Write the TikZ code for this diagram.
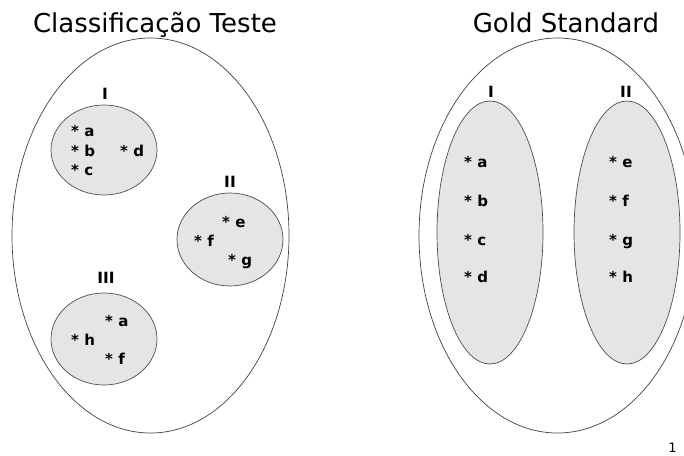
\documentclass[tikz,border=0pt]{standalone}
\usepackage{fontspec}
\setmainfont{DejaVu Sans}
\usetikzlibrary{shapes.geometric}
\begin{document}
\begin{tikzpicture}[x=1pt,y=-1pt,
  outer/.style={ellipse, draw=black!75, line width=0.7pt, inner sep=0pt},
  group/.style={ellipse, draw=black!70, fill=black!10, line width=0.7pt, inner sep=0pt},
  item/.style={font=\fontsize{15}{17}\selectfont\bfseries, inner sep=0pt, anchor=base west},
  roman/.style={font=\fontsize{15.5}{17}\selectfont\bfseries, inner sep=0pt, anchor=base},
  title/.style={font=\fontsize{26}{30}\selectfont, inner sep=0pt, anchor=base}]
\useasboundingbox (0,0) rectangle (684,455);
\clip (0,0) rectangle (684,455);
% titles
\node[title] (t1) at (155,32) {Classificação Teste};
\node[title] (t2) at (566,32) {Gold Standard};
% left outer
\node[outer, minimum width=277pt, minimum height=395pt] (L) at (150.5,235.5) {};
\node[group, minimum width=106pt, minimum height=90pt] (LI) at (104,150) {};
\node[group, minimum width=106pt, minimum height=93pt] (LII) at (230,239.5) {};
\node[group, minimum width=106pt, minimum height=92pt] (LIII) at (104,339) {};
\node[roman] (rI) at (105,99.5) {I};
\node[roman] (rII) at (230,187) {II};
\node[roman] (rIII) at (106,283) {III};
\node[item] (a1) at (71,136.5) {* a};
\node[item] (b1) at (71,156) {* b};
\node[item] (c1) at (71,175) {* c};
\node[item] (d1) at (120,156) {* d};
\node[item] (e2) at (222,227) {* e};
\node[item] (f2) at (194,246) {* f};
\node[item] (g2) at (228,265) {* g};
\node[item] (a3) at (105,326) {* a};
\node[item] (h3) at (71,345) {* h};
\node[item] (f3) at (105,364) {* f};
% right outer
\node[outer, minimum width=277pt, minimum height=395pt] (R) at (557.5,235.5) {};
\node[group, minimum width=106pt, minimum height=263pt] (RI) at (490,232.5) {};
\node[group, minimum width=106pt, minimum height=263pt] (RII) at (627,232.5) {};
\node[roman] (sI) at (491,97) {I};
\node[roman] (sII) at (626,97) {II};
\node[item] (ra) at (464,167.5) {* a};
\node[item] (rb) at (464,206) {* b};
\node[item] (rc) at (464,245) {* c};
\node[item] (rd) at (464,282.5) {* d};
\node[item] (re) at (609,167.5) {* e};
\node[item] (rf) at (609,206) {* f};
\node[item] (rg) at (609,245) {* g};
\node[item] (rh) at (609,282.5) {* h};
\node[font=\fontsize{13}{15}\selectfont, inner sep=0pt, anchor=base] (pg) at (672.5,452.5) {1};
\end{tikzpicture}
\end{document}
